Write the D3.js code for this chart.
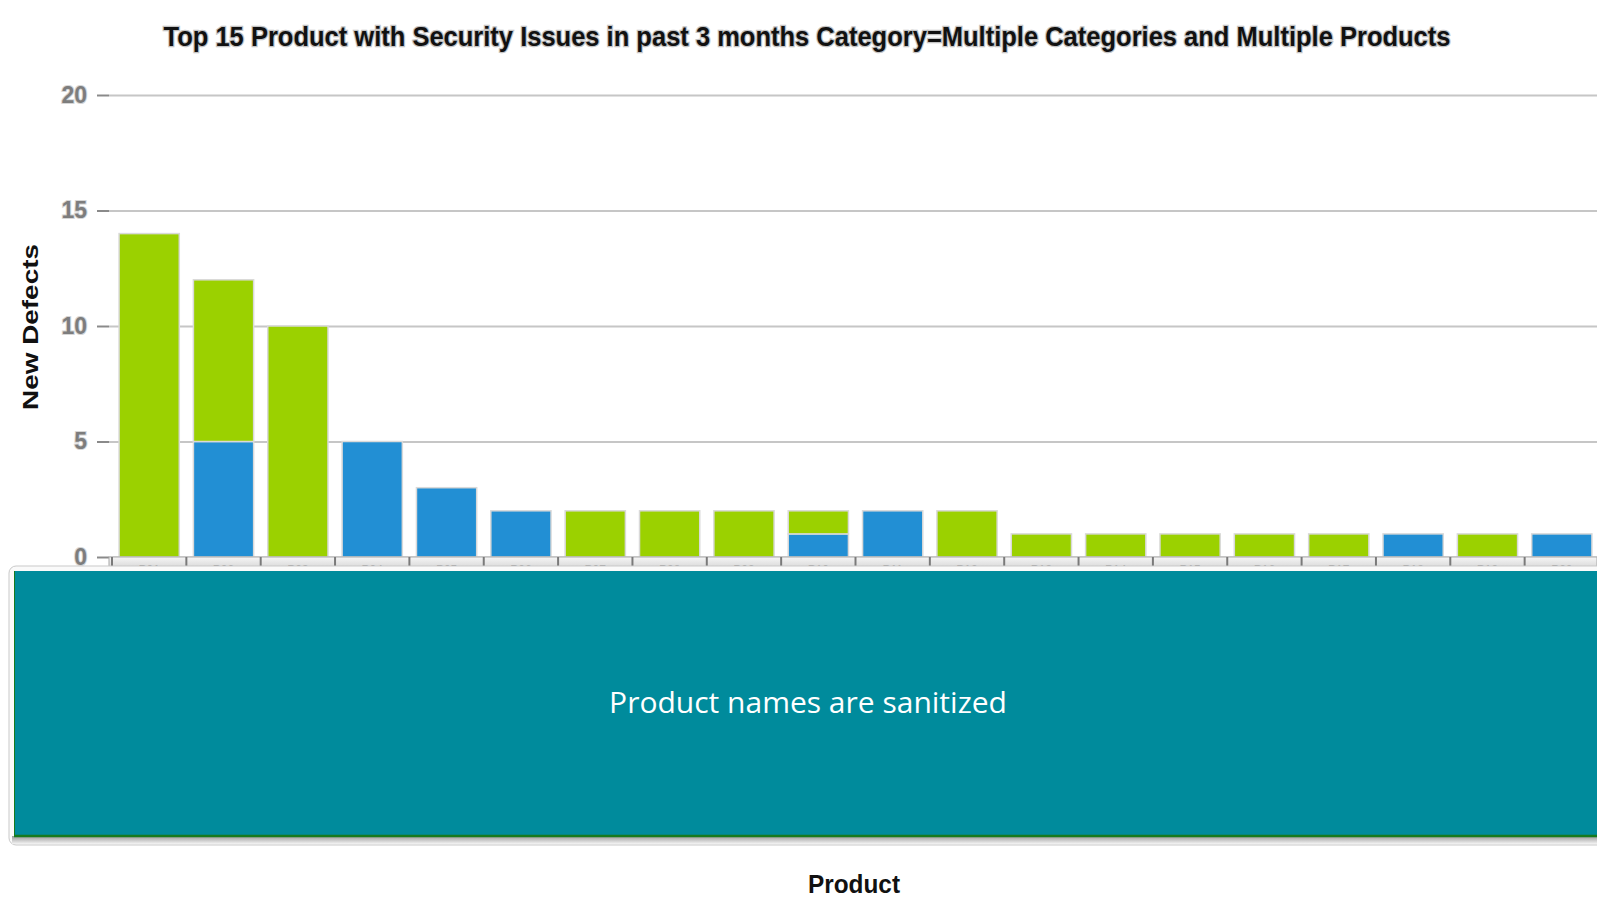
<!DOCTYPE html>
<html>
<head>
<meta charset="utf-8">
<script src="https://cdn.jsdelivr.net/npm/d3@7/dist/d3.min.js"></script>
<style>
  body { margin: 0; background: #fff; }
  svg text { font-family: "Liberation Sans Narrow", "Arial Narrow", "Liberation Sans", sans-serif; }
</style>
</head>
<body>
<div id="chart"></div>
<script>
// chart data (product names are sanitized in the source)
var products = ["P01","P02","P03","P04","P05","P06","P07","P08","P09","P10",
                "P11","P12","P13","P14","P15","P16","P17","P18","P19","P20"];
var blueValues  = [0, 5, 0, 5, 3, 2, 0, 0, 0, 1, 2, 0, 0, 0, 0, 0, 0, 1, 0, 1];
var greenValues = [14, 7, 10, 0, 0, 0, 2, 2, 2, 1, 0, 2, 1, 1, 1, 1, 1, 0, 1, 0];
var yTicks = [0, 5, 10, 15, 20];
var titleText = "Top 15 Product with Security Issues in past 3 months Category=Multiple Categories and Multiple Products";

var W = 1597, H = 898;
var plotLeft = 109, plotTop = 95, plotBottom = 557;

var rows = products.map(function(p, i) {
  return {product: p, blue: blueValues[i], green: greenValues[i]};
});

var svg = d3.select("#chart").append("svg")
    .attr("width", W)
    .attr("height", H);

var defs = svg.append("defs");
var stripGrad = defs.append("linearGradient").attr("id", "strip").attr("x1", 0).attr("y1", 0).attr("x2", 0).attr("y2", 1);
stripGrad.append("stop").attr("offset", "0%").attr("stop-color", "#f6f6f6");
stripGrad.append("stop").attr("offset", "100%").attr("stop-color", "#cfcfcf");
var shadowGrad = defs.append("linearGradient").attr("id", "shadow").attr("x1", 0).attr("y1", 0).attr("x2", 0).attr("y2", 1);
shadowGrad.append("stop").attr("offset", "0%").attr("stop-color", "#9a9a9a");
shadowGrad.append("stop").attr("offset", "100%").attr("stop-color", "#f4f4f4");

var x = d3.scaleBand()
    .domain(products)
    .range([112, 1599])
    .paddingInner(0.19)
    .paddingOuter(0.095);

var y = d3.scaleLinear()
    .domain([0, 20])
    .range([plotBottom, plotTop]);

// title
svg.append("text")
    .attr("x", 807)
    .attr("y", 46)
    .attr("text-anchor", "middle")
    .attr("textLength", 1287)
    .attr("lengthAdjust", "spacingAndGlyphs")
    .style("font-size", "27px")
    .style("font-weight", "bold")
    .style("fill", "#111")
    .style("stroke", "#c4c4c4")
    .style("stroke-width", "2.5px")
    .style("paint-order", "stroke")
    .text(titleText);

// gridlines
svg.append("g")
    .attr("class", "grid")
    .attr("transform", "translate(" + plotLeft + ",0)")
    .call(d3.axisLeft(y).tickValues(yTicks).tickSize(-(W - plotLeft)).tickFormat(""))
    .call(function(g) { g.select(".domain").remove(); })
    .selectAll("line")
    .style("stroke", "#c6c6c6")
    .style("stroke-width", "2px");

// y axis
var yAxis = svg.append("g")
    .attr("class", "y axis")
    .attr("transform", "translate(" + plotLeft + ",0)")
    .call(d3.axisLeft(y).tickValues(yTicks).tickSize(12).tickPadding(10));
yAxis.select(".domain").remove();
yAxis.selectAll("line").style("stroke", "#8a8a8a").style("stroke-width", "2px");
yAxis.selectAll("text")
    .style("font-size", "23px")
    .style("font-weight", "bold")
    .style("fill", "#7d7d7d")
    .style("stroke", "#d6d6d6")
    .style("stroke-width", "2px")
    .style("paint-order", "stroke");

svg.append("text")
    .attr("transform", "translate(38,327) rotate(-90)")
    .attr("text-anchor", "middle")
    .attr("textLength", 166)
    .attr("lengthAdjust", "spacingAndGlyphs")
    .style("font-family", "'Liberation Sans', Arial, sans-serif")
    .style("font-size", "22px")
    .style("font-weight", "bold")
    .style("fill", "#111")
    .text("New Defects");

// stacked bars
var stack = d3.stack().keys(["blue", "green"]);
var colors = {blue: "#228fd4", green: "#9bd100"};

svg.append("g").selectAll("g")
    .data(stack(rows))
  .enter().append("g")
    .style("fill", function(d) { return colors[d.key]; })
  .selectAll("rect")
    .data(function(d) { return d; })
  .enter().append("rect")
    .filter(function(d) { return d[1] > d[0]; })
    .attr("x", function(d) { return x(d.data.product); })
    .attr("y", function(d) { return y(d[1]); })
    .attr("width", x.bandwidth())
    .attr("height", function(d) { return y(d[0]) - y(d[1]); })
    .style("stroke", "#d9d9d9")
    .style("stroke-width", "1.5px");

// x axis strip with boundary ticks
svg.append("rect")
    .attr("x", plotLeft)
    .attr("y", plotBottom)
    .attr("width", W - plotLeft)
    .attr("height", 14)
    .style("fill", "url(#strip)")
    .style("stroke", "#a8a8a8")
    .style("stroke-width", "1px");

var xAxis = svg.append("g")
    .attr("class", "x axis")
    .attr("transform", "translate(0," + plotBottom + ")")
    .call(d3.axisBottom(x).tickSize(0).tickPadding(8));
xAxis.select(".domain").remove();
xAxis.selectAll("text")
    .style("font-size", "12px")
    .style("fill", "#999");

var gapHalf = x.step() * x.paddingInner() / 2;
svg.append("g").selectAll("line")
    .data(products)
  .enter().append("line")
    .attr("x1", function(d) { return x(d) - gapHalf; })
    .attr("x2", function(d) { return x(d) - gapHalf; })
    .attr("y1", plotBottom)
    .attr("y2", plotBottom + 11)
    .style("stroke", "#7a7a7a")
    .style("stroke-width", "2px");

// sanitizing box over the product names
svg.append("rect")
    .attr("x", 9)
    .attr("y", 566)
    .attr("width", W)
    .attr("height", 279)
    .attr("rx", 7)
    .style("fill", "#fafafa")
    .style("stroke", "#c9c9c9");
svg.append("rect")
    .attr("x", 12)
    .attr("y", 836)
    .attr("width", W)
    .attr("height", 8)
    .style("fill", "url(#shadow)");
svg.append("rect")
    .attr("x", 14)
    .attr("y", 571)
    .attr("width", W)
    .attr("height", 266)
    .style("fill", "#008b9c");
svg.append("line")
    .attr("x1", 14).attr("x2", W)
    .attr("y1", 836).attr("y2", 836)
    .style("stroke", "#167a1e")
    .style("stroke-width", "2.5px");
svg.append("line")
    .attr("x1", 14.5).attr("x2", 14.5)
    .attr("y1", 571).attr("y2", 837)
    .style("stroke", "#167a1e")
    .style("stroke-width", "1px");

svg.append("text")
    .attr("x", 808)
    .attr("y", 713)
    .attr("text-anchor", "middle")
    .style("font-family", "'Open Sans', 'Noto Sans', sans-serif")
    .style("font-size", "30px")
    .style("fill", "#fff")
    .text("Product names are sanitized");

// x axis label
svg.append("text")
    .attr("x", 854)
    .attr("y", 893)
    .attr("text-anchor", "middle")
    .attr("textLength", 92)
    .attr("lengthAdjust", "spacingAndGlyphs")
    .style("font-size", "25px")
    .style("font-weight", "bold")
    .style("fill", "#111")
    .text("Product");
</script>
</body>
</html>
